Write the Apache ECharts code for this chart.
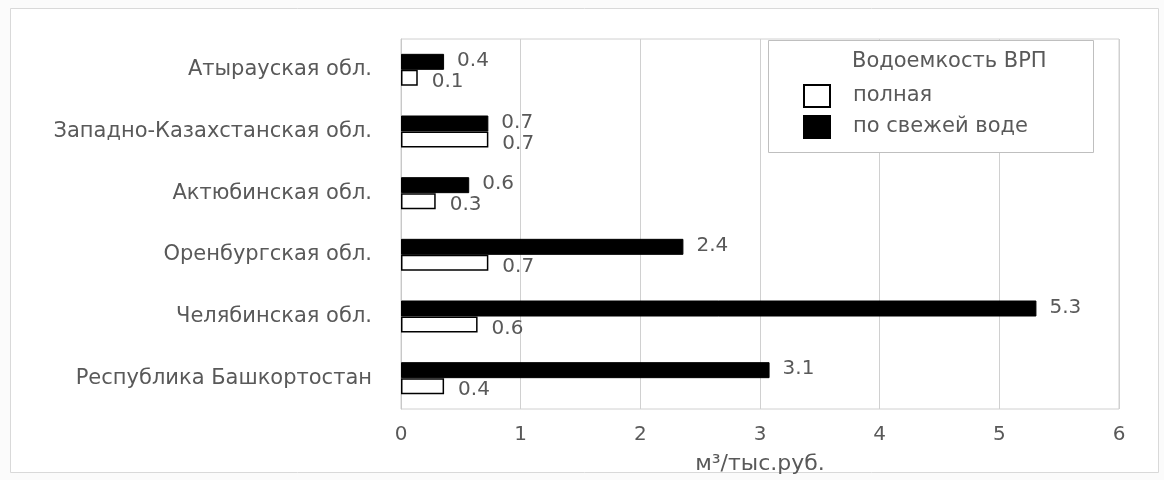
<!DOCTYPE html>
<html>
<head>
<meta charset="utf-8">
<script src="https://cdn.jsdelivr.net/npm/echarts@6/dist/echarts.min.js"></script>
<style>
  html, body { margin: 0; padding: 0; background: #fbfbfb; }
  #chart { width: 1164px; height: 480px; }
</style>
</head>
<body>
<div id="chart"></div>
<script>
// Regions, listed from the bottom of the chart to the top
var regions = [
  'Республика Башкортостан',
  'Челябинская обл.',
  'Оренбургская обл.',
  'Актюбинская обл.',
  'Западно-Казахстанская обл.',
  'Атырауская обл.'
];
// Water intensity of GRP, m³ per thousand rubles
var totalWater = [0.36, 0.64, 0.73, 0.29, 0.73, 0.14];
var freshWater = [3.08, 5.31, 2.36, 0.57, 0.73, 0.36];
var xTicks = [0, 1, 2, 3, 4, 5, 6];

var legendTitle = 'Водоемкость ВРП';
var seriesNames = ['полная', 'по свежей воде'];
var axisName = 'м³/тыс.руб.';

var FONT = 'DejaVu Sans';
var GREY = '#595959';

var chart = echarts.init(document.getElementById('chart'), null, { renderer: 'canvas' });

function fmt(p) { return p.value.toFixed(1); }

chart.setOption({
  animation: false,
  backgroundColor: '#fbfbfb',
  textStyle: { fontFamily: FONT },
  graphic: [
    {
      type: 'rect', z: -10,
      shape: { x: 10.5, y: 8.5, width: 1148, height: 464 },
      style: { fill: '#ffffff', stroke: '#d9d9d9', lineWidth: 1 }
    },
    {
      type: 'rect', z: 5,
      shape: { x: 768.5, y: 40.5, width: 325, height: 112 },
      style: { fill: '#ffffff', stroke: '#bfbfbf', lineWidth: 1 }
    },
    {
      type: 'text', z: 6, left: 852, top: 51,
      style: { text: legendTitle, font: '21px "' + FONT + '"', fill: GREY }
    }
  ],
  legend: {
    orient: 'vertical',
    left: 798, top: 79,
    z: 7,
    itemWidth: 26, itemHeight: 22, itemGap: 7,
    icon: 'rect',
    data: seriesNames,
    textStyle: { fontFamily: FONT, fontSize: 21, color: GREY, padding: [0, 0, 0, 18] }
  },
  grid: {
    left: 401, right: 45, top: 39, bottom: 71,
    show: true, borderColor: '#d0d0d0', borderWidth: 1, backgroundColor: 'transparent'
  },
  xAxis: {
    type: 'value',
    min: xTicks[0], max: xTicks[xTicks.length - 1], interval: 1,
    name: axisName, nameLocation: 'middle', nameGap: 44,
    nameTextStyle: { fontFamily: FONT, fontSize: 22, color: GREY },
    axisLine: { show: false },
    axisTick: { show: false },
    axisLabel: { fontFamily: FONT, fontSize: 20, color: GREY, margin: 16 },
    splitLine: { show: true, lineStyle: { color: '#d0d0d0', width: 1 } }
  },
  yAxis: {
    type: 'category',
    data: regions,
    axisLine: { show: true, lineStyle: { color: '#c8c8c8' } },
    axisTick: { show: false },
    axisLabel: { fontFamily: FONT, fontSize: 21, color: GREY, margin: 29, padding: [12, 0, 0, 0] }
  },
  series: [
    {
      name: seriesNames[1],
      type: 'bar',
      data: freshWater,
      barWidth: 16,
      barGap: '0%',
      itemStyle: { color: '#000000', borderColor: '#000000', borderWidth: 1 },
      label: {
        show: true, position: 'right', distance: 13, offset: [0, -1],
        formatter: fmt, fontFamily: FONT, fontSize: 20, color: GREY
      }
    },
    {
      name: seriesNames[0],
      type: 'bar',
      data: totalWater,
      barWidth: 16,
      barGap: '0%',
      itemStyle: { color: '#ffffff', borderColor: '#000000', borderWidth: 1.5 },
      label: {
        show: true, position: 'right', distance: 14, offset: [0, 4],
        formatter: fmt, fontFamily: FONT, fontSize: 20, color: GREY
      }
    }
  ]
});
</script>
</body>
</html>
